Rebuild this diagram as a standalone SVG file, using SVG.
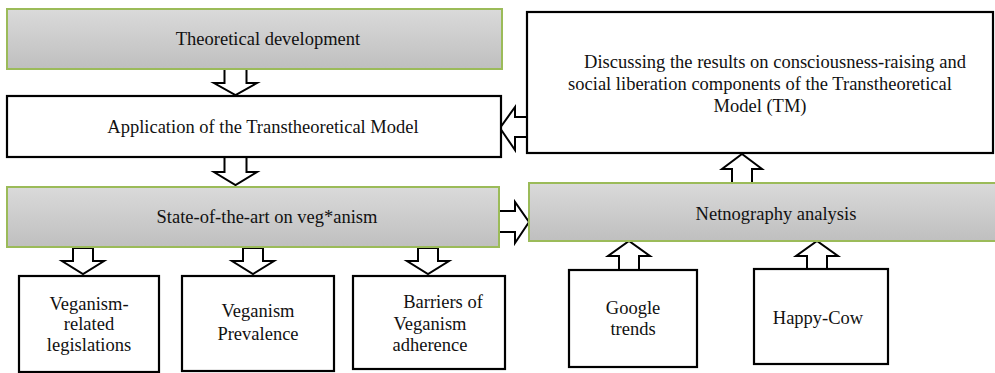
<svg xmlns="http://www.w3.org/2000/svg" width="995" height="373" viewBox="0 0 995 373">
<defs>
<linearGradient id="gray" x1="0" y1="0" x2="0" y2="1">
<stop offset="0" stop-color="#dadada"/>
<stop offset="1" stop-color="#bfbfbf"/>
</linearGradient>
<style>
.g{fill:url(#gray);stroke:#9bbb59;stroke-width:2}
.w{fill:#fff;stroke:#000;stroke-width:2.2}
.a{fill:#fff;stroke:#000;stroke-width:2;stroke-linejoin:miter}
text{font-family:"Liberation Serif","Times New Roman",serif;font-size:18.5px;fill:#111;text-anchor:middle}
</style>
</defs>
<rect width="995" height="373" fill="#fff"/>
<g id="connectors">
<path class="a" d="M224.5,69 H246.5 V83 H257 L235.5,95 L214,83 H224.5 Z"/>
<path class="a" d="M224.5,157 H246.5 V172 H257 L235.5,185 L214,172 H224.5 Z"/>
<path class="a" d="M73,248 H93 V261 H104 L83,274 L62,261 H73 Z"/>
<path class="a" d="M243,248 H263 V261 H274 L253,274 L232,261 H243 Z"/>
<path class="a" d="M418,248 H438 V261 H449 L428,274 L407,261 H418 Z"/>
<path class="a" d="M527,117 V137 H515 V150 L500,128 L515,107 V117 Z"/>
<path class="a" d="M499,211 V232 H515 V243 L529,222 L515,202 V211 Z"/>
<path class="a" d="M732,183 V169 H722 L742,154 L762,169 H752 V183 Z"/>
<path class="a" d="M619,270 V256 H608 L629,241 L650,256 H639 V270 Z"/>
<path class="a" d="M807,269 V256 H796 L817,241 L838,256 H827 V269 Z"/>
</g>
<g id="theoretical">
<rect class="g" x="7" y="9" width="495" height="60"/>
<text x="268" y="45">Theoretical development</text>
</g>
<g id="application">
<rect class="w" x="7" y="96" width="494" height="61"/>
<text x="263" y="133">Application of the Transtheoretical Model</text>
</g>
<g id="stateofart">
<rect class="g" x="7" y="187" width="492" height="60"/>
<text x="267" y="223">State-of-the-art on veg*anism</text>
</g>
<g id="discussing">
<rect class="w" x="527" y="12" width="466" height="141"/>
<text x="775" y="68">Discussing the results on consciousness-raising and</text>
<text x="760" y="90">social liberation components of the Transtheoretical</text>
<text x="760" y="112">Model (TM)</text>
</g>
<g id="netnography">
<rect class="g" x="529" y="183" width="470" height="58"/>
<text x="776" y="220">Netnography analysis</text>
</g>
<g id="legislations">
<rect class="w" x="19" y="276" width="140" height="96"/>
<text x="89" y="310">Veganism-</text>
<text x="89" y="330">related</text>
<text x="89" y="351">legislations</text>
</g>
<g id="prevalence">
<rect class="w" x="182" y="276" width="152" height="95"/>
<text x="258" y="317">Veganism</text>
<text x="258" y="340">Prevalence</text>
</g>
<g id="barriers">
<rect class="w" x="353" y="276" width="152" height="93"/>
<text x="443" y="308">Barriers of</text>
<text x="430" y="330">Veganism</text>
<text x="430" y="351">adherence</text>
</g>
<g id="google">
<rect class="w" x="569" y="270" width="128" height="97"/>
<text x="633" y="314">Google</text>
<text x="633" y="335">trends</text>
</g>
<g id="happycow">
<rect class="w" x="754" y="269" width="134" height="95"/>
<text x="818" y="324">Happy-Cow</text>
</g>
</svg>
